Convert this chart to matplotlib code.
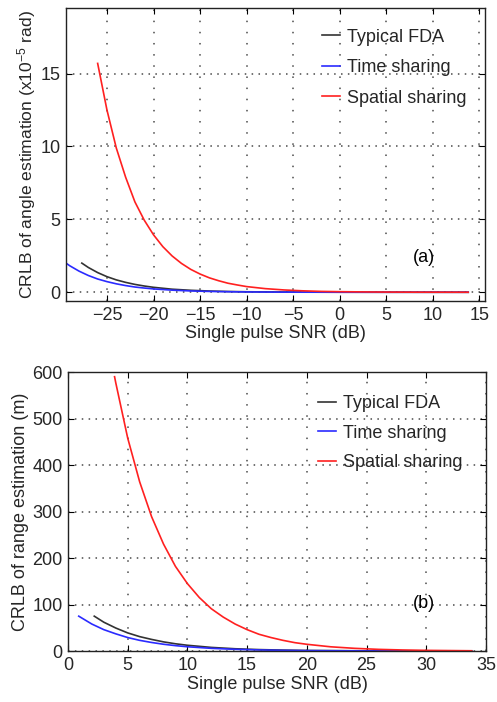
### CRLB of angle and range estimation vs single pulse SNR

import numpy as np
import matplotlib
matplotlib.use('Agg')
import matplotlib.pyplot as plt

plt.rcParams['font.family'] = ['Liberation Sans', 'DejaVu Sans']
plt.rcParams['mathtext.default'] = 'regular'

# (a) angle estimation, values in 1e-5 rad
snr_a_typ = [-27.7, -27, -26, -25, -24, -23, -22, -21, -20, -18, -16, -14, -12, -10, -5, 0, 5, 13.8]
crlb_a_typ = [2.0, 1.7, 1.35, 1.07, 0.85, 0.68, 0.54, 0.43, 0.34, 0.21, 0.135, 0.085, 0.054, 0.034, 0.011, 0.0034, 0.001, 0.0001]
snr_a_time = [-29.4, -29, -28, -27, -26, -25, -24, -23, -22, -21, -20, -18, -16, -14, -12, -10, -5, 0, 5, 13.8]
crlb_a_time = [2.0, 1.82, 1.45, 1.15, 0.91, 0.73, 0.58, 0.46, 0.36, 0.29, 0.23, 0.145, 0.091, 0.058, 0.036, 0.023, 0.007, 0.0023, 0.0007, 0.0001]
snr_a_spat = [-26, -25, -24, -23, -22, -21, -20, -19, -18, -17, -16, -15, -14, -13, -12, -11, -10, -8, -6, -4, -2, 0, 4, 8, 13.8]
crlb_a_spat = [15.7, 12.5, 9.9, 7.9, 6.2, 4.95, 3.94, 3.13, 2.49, 1.98, 1.57, 1.25, 0.99, 0.79, 0.62, 0.50, 0.39, 0.25, 0.16, 0.10, 0.06, 0.04, 0.016, 0.006, 0.002]

# (b) range estimation, values in m
snr_b_typ = [2.2, 3, 4, 5, 6, 7, 8, 9, 10, 12, 14, 16, 18, 20, 25, 33.8]
crlb_b_typ = [75, 62, 49.5, 39, 31, 25, 19.7, 15.6, 12.4, 7.8, 4.9, 3.1, 2.0, 1.2, 0.4, 0.05]
snr_b_time = [0.9, 2, 3, 4, 5, 6, 7, 8, 9, 10, 12, 14, 16, 18, 20, 25, 33.8]
crlb_b_time = [75, 58, 46, 37, 29, 23, 18.4, 14.6, 11.6, 9.2, 5.8, 3.7, 2.3, 1.5, 0.9, 0.3, 0.04]
snr_b_spat = [3.9, 4, 5, 6, 7, 8, 9, 10, 11, 12, 13, 14, 15, 16, 17, 18, 19, 20, 22, 24, 26, 28, 30, 33.8]
crlb_b_spat = [590, 577, 458, 364, 289, 230, 182, 145, 115, 91, 73, 58, 46, 36, 29, 23, 18, 14.5, 9.1, 5.8, 3.6, 2.3, 1.45, 0.6]

labels = ['Typical FDA', 'Time sharing', 'Spatial sharing']
colors = ['#333333', '#2b2bff', '#ff2020']
fs = 13
txt = '#262626'

fig = plt.figure(figsize=(4.97, 7.02), dpi=100)
ax1 = fig.add_axes([0.1328, 0.5712, 0.843, 0.4174])
ax2 = fig.add_axes([0.1368, 0.0726, 0.841, 0.3974])

ax1.plot(snr_a_typ, crlb_a_typ, color=colors[0], lw=1.2, label=labels[0])
ax1.plot(snr_a_time, crlb_a_time, color=colors[1], lw=1.2, label=labels[1])
ax1.plot(snr_a_spat, crlb_a_spat, color=colors[2], lw=1.2, label=labels[2])
ax1.set_xlim(-29.4, 15.6)
ax1.set_ylim(-0.6, 19.5)
ax1.set_xticks(np.arange(-25, 16, 5))
ax1.set_yticks([0, 5, 10, 15])
ax1.set_xlabel('Single pulse SNR (dB)', fontsize=fs, color=txt, labelpad=1)
ax1.set_ylabel('CRLB of angle estimation (x10$^{-5}$ rad)', fontsize=12.6, color=txt, labelpad=2)
ax1.text(0.828, 0.150, '(a)', transform=ax1.transAxes, fontsize=fs, color='k', va='center')
ax1.legend(loc='upper left', bbox_to_anchor=(0.611, 0.93), frameon=False, fontsize=fs,
           handlelength=1.0, handletextpad=0.4, labelspacing=0.75, borderpad=0, borderaxespad=0,
           labelcolor=txt)

ax2.plot(snr_b_typ, crlb_b_typ, color=colors[0], lw=1.2, label=labels[0])
ax2.plot(snr_b_time, crlb_b_time, color=colors[1], lw=1.2, label=labels[1])
ax2.plot(snr_b_spat, crlb_b_spat, color=colors[2], lw=1.2, label=labels[2])
ax2.set_xlim(0, 35)
ax2.set_ylim(0, 600)
ax2.set_xticks(np.arange(0, 36, 5))
ax2.set_yticks(np.arange(0, 601, 100))
ax2.set_xlabel('Single pulse SNR (dB)', fontsize=fs, color=txt, labelpad=2)
ax2.set_ylabel('CRLB of range estimation (m)', fontsize=fs, color=txt, labelpad=2)
ax2.text(0.825, 0.172, '(b)', transform=ax2.transAxes, fontsize=fs, color='k', va='center')
ax2.legend(loc='upper left', bbox_to_anchor=(0.598, 0.918), frameon=False, fontsize=fs,
           handlelength=1.0, handletextpad=0.4, labelspacing=0.7, borderpad=0, borderaxespad=0,
           labelcolor=txt)

for ax in [ax1, ax2]:
    # dotted grid, dots closer along horizontal lines than vertical ones
    ax.grid(True, axis='y', linestyle=(0, (1, 3.5)), color='#4a4a4a', lw=1.1)
    ax.grid(True, axis='x', linestyle=(0, (1, 6.3)), color='#4a4a4a', lw=1.1)
    ax.tick_params(direction='in', top=True, right=True, length=4, labelsize=fs, labelcolor=txt, pad=4)
    for s in ax.spines.values():
        s.set_color('#222222')
        s.set_linewidth(1.0)

fig.savefig('out.png', dpi=100)
